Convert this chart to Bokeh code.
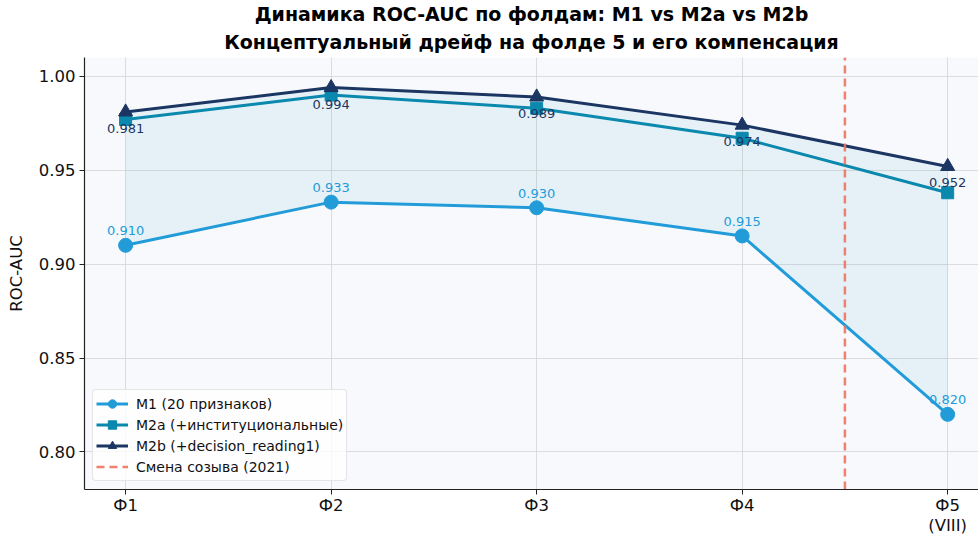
from bokeh.plotting import figure
from bokeh.models import (ColumnDataSource, FixedTicker, Legend, LegendItem, Range1d,
                          CustomJSTickFormatter, Title)
from bokeh.core.properties import value
from bokeh.embed import file_html
from bokeh.resources import INLINE

title_lines = ["Динамика ROC-AUC по фолдам: M1 vs M2a vs M2b",
               "Концептуальный дрейф на фолде 5 и его компенсация"]
folds = ["Ф1", "Ф2", "Ф3", "Ф4", "Ф5\n(VIII)"]
m1 = [0.910, 0.933, 0.930, 0.915, 0.820]
m2a = [0.977, 0.990, 0.983, 0.967, 0.938]
m2b = [0.981, 0.994, 0.989, 0.974, 0.952]
drift_pos = 3.5
y_ticks = [0.80, 0.85, 0.90, 0.95, 1.00]

c_m1 = "#229cd9"
c_m2a = "#0a88ad"
c_m2b = "#1b3662"
c_drift = "#ef735d"
c_fill = "#1a96c4"

xs = list(range(len(folds)))
src = ColumnDataSource(dict(
    x=xs, m1=m1, m2a=m2a, m2b=m2b,
    m1_lbl=[f"{v:.3f}" for v in m1],
    m2b_lbl=[f"{v:.3f}" for v in m2b],
))

p = figure(frame_width=894, frame_height=432, output_backend="svg", toolbar_location=None,
           x_range=Range1d(-0.2, 4.15), y_range=Range1d(0.78, 1.01),
           min_border_left=84, min_border_top=57, min_border_bottom=46, min_border_right=0)

p.background_fill_color = "#f8f9fc"
p.border_fill_color = "white"
p.outline_line_color = None

# outer (top) line
p.title.text = title_lines[0]
p.title.align = "center"
p.title.text_font = "DejaVu Sans"
p.title.text_font_style = "bold"
p.title.text_font_size = "19px"
p.title.text_color = "black"
p.title.offset = 5
p.title.standoff = 0

# inner line, closest to the plot
t2 = Title(text=title_lines[1], align="center", text_font="DejaVu Sans",
           text_font_style="bold", text_font_size="19px", text_color="black",
           offset=5, standoff=9, text_line_height=0.65)
p.add_layout(t2, "above")

p.varea(x="x", y1="m1", y2="m2b", source=src, fill_color=c_fill, fill_alpha=0.08)

r1l = p.line("x", "m1", source=src, line_color=c_m1, line_width=3)
r1m = p.scatter("x", "m1", source=src, marker="circle", size=14, color=c_m1)
r2l = p.line("x", "m2a", source=src, line_color=c_m2a, line_width=3)
r2m = p.scatter("x", "m2a", source=src, marker="square", size=12, color=c_m2a)
r3l = p.line("x", "m2b", source=src, line_color=c_m2b, line_width=3)
r3m = p.scatter("x", "m2b", source=src, marker="triangle", size=14, color=c_m2b)

drift = p.line([drift_pos, drift_pos], [0.78, 1.01], line_color=c_drift, line_width=2.5,
               line_dash="8 5", alpha=0.9)

p.text("x", "m1", text="m1_lbl", source=src, text_align="center", text_baseline="bottom",
       y_offset=-10, text_color=c_m1, text_font=value("DejaVu Sans"), text_font_size="13px")
p.text("x", "m2b", text="m2b_lbl", source=src, text_align="center", text_baseline="top",
       y_offset=12, text_color=c_m2b, text_font=value("DejaVu Sans"), text_font_size="13px")

p.xaxis.ticker = FixedTicker(ticks=xs)
p.xaxis.major_label_overrides = {i: f for i, f in enumerate(folds)}
p.yaxis.ticker = FixedTicker(ticks=y_ticks)
p.yaxis.formatter = CustomJSTickFormatter(code="return tick.toFixed(2);")

for ax in (p.xaxis[0], p.yaxis[0]):
    ax.major_label_text_font = "DejaVu Sans"
    ax.major_label_text_font_size = "16.5px"
    ax.major_label_text_color = "#111111"
    ax.axis_line_color = "#222222"
    ax.axis_line_width = 1.2
    ax.major_tick_line_color = "#222222"
    ax.major_tick_in = 0
    ax.major_tick_out = 5
    ax.minor_tick_line_color = None
    ax.axis_label_text_font = "DejaVu Sans"
    ax.axis_label_text_font_style = "normal"
    ax.axis_label_text_font_size = "16.5px"
    ax.axis_label_text_color = "#111111"

p.xaxis.major_label_text_line_height = 1.1
p.yaxis.axis_label = "ROC-AUC"
p.yaxis.axis_label_standoff = 10
p.yaxis.major_label_standoff = 4
p.xaxis.major_label_standoff = 1

p.grid.grid_line_color = "#d4d4d4"
p.grid.grid_line_alpha = 0.8

legend = Legend(items=[
    LegendItem(label="M1 (20 признаков)", renderers=[r1l, r1m]),
    LegendItem(label="M2a (+институциональные)", renderers=[r2l, r2m]),
    LegendItem(label="M2b (+decision_reading1)", renderers=[r3l, r3m]),
    LegendItem(label="Смена созыва (2021)", renderers=[drift]),
], location="bottom_left")
legend.label_text_font = "DejaVu Sans"
legend.label_text_font_size = "14px"
legend.label_text_color = "#111111"
legend.background_fill_color = "white"
legend.background_fill_alpha = 0.8
legend.border_line_color = "#cccccc"
legend.border_radius = 4
legend.glyph_width = 32
legend.glyph_height = 21
legend.label_height = 21
legend.spacing = 0
legend.padding = 3
legend.margin = 8
legend.label_standoff = 8
p.add_layout(legend)

open("out.html", "w").write(file_html(p, INLINE))
